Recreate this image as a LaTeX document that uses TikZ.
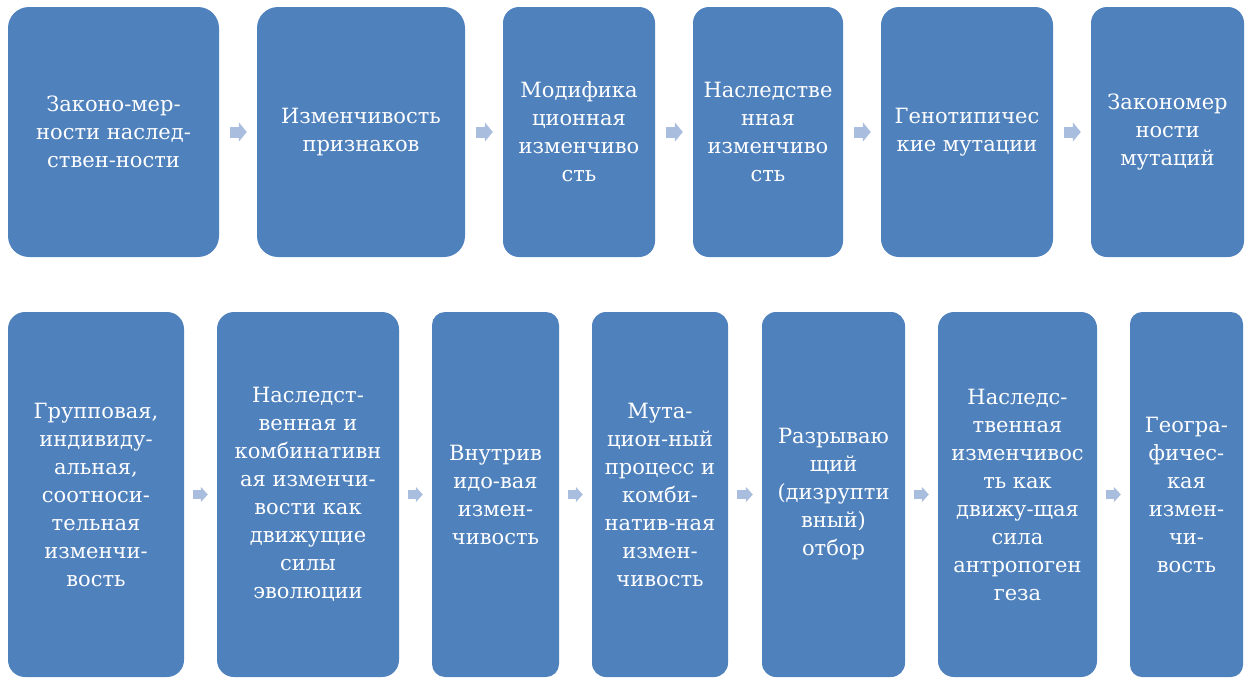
\documentclass[tikz,border=0pt]{standalone}
\usepackage{fontspec}
\setmainfont{DejaVu Serif}
\usetikzlibrary{arrows.meta}
\definecolor{boxblue}{HTML}{4F81BD}
\definecolor{arrowblue}{HTML}{A9BEDF}

\begin{document}
\begin{tikzpicture}[x=1pt, y=-1pt,
  box/.style={fill=boxblue, text=white, align=center, inner sep=0pt,
    rounded corners=#1, font=\fontsize{21}{28}\selectfont},
  box/.default=15pt,
  bigflow/.style={draw=arrowblue, line width=11pt,
    -{Triangle[length=8pt, width=19pt]}, shorten <=11pt, shorten >=10pt},
  smallflow/.style={draw=arrowblue, line width=9pt,
    -{Triangle[length=7pt, width=15pt]}, shorten <=9pt, shorten >=9pt}]
  \useasboundingbox (0,0) rectangle (1252,678);

  \node [box=21pt, minimum width=211pt, minimum height=250pt] (A1) at (113.5,132) {Законо-мер-\\ности наслед-\\ствен-ности};
  \node [box=21pt, minimum width=208pt, minimum height=250pt] (A2) at (361,132) {Изменчивость\\признаков};
  \node [box=16pt, minimum width=152pt, minimum height=250pt] (A3) at (579,132) {Модифика\\ционная\\изменчиво\\сть};
  \node [box=16pt, minimum width=150pt, minimum height=250pt] (A4) at (768,132) {Наследстве\\нная\\изменчиво\\сть};
  \node [box=18pt, minimum width=172pt, minimum height=250pt] (A5) at (967,132) {Генотипичес\\кие мутации};
  \node [box=16pt, minimum width=153pt, minimum height=250pt] (A6) at (1167.5,132) {Закономер\\ности\\мутаций};
  \draw [bigflow] (A1) -- (A2);
  \draw [bigflow] (A2) -- (A3);
  \draw [bigflow] (A3) -- (A4);
  \draw [bigflow] (A4) -- (A5);
  \draw [bigflow] (A5) -- (A6);

  \node [box=17pt, minimum width=176pt, minimum height=365pt] (B1) at (96,494.5) {Групповая,\\индивиду-\\альная,\\соотноси-\\тельная\\изменчи-\\вость};
  \node [box=17pt, minimum width=182pt, minimum height=365pt] (B2) at (308,494.5) {Наследст-\\венная и\\комбинативн\\ая изменчи-\\вости как\\движущие\\силы\\эволюции};
  \node [box=13pt, minimum width=127pt, minimum height=365pt] (B3) at (495.5,494.5) {Внутрив\\идо-вая\\измен-\\чивость};
  \node [box=14pt, minimum width=136pt, minimum height=365pt] (B4) at (660,494.5) {Мута-\\цион-ный\\процесс и\\комби-\\натив-ная\\измен-\\чивость};
  \node [box=14pt, minimum width=143pt, minimum height=365pt] (B5) at (833.5,494.5) {Разрываю\\щий\\(дизрупти\\вный)\\отбор};
  \node [box=16pt, minimum width=159pt, minimum height=365pt] (B6) at (1017.5,494.5) {Наследс-\\твенная\\изменчивос\\ть как\\движу-щая\\сила\\антропоген\\геза};
  \node [box=12pt, minimum width=113pt, minimum height=365pt] (B7) at (1186.5,494.5) {Геогра-\\фичес-\\кая\\измен-\\чи-\\вость};
  \draw [smallflow] (B1) -- (B2);
  \draw [smallflow] (B2) -- (B3);
  \draw [smallflow] (B3) -- (B4);
  \draw [smallflow] (B4) -- (B5);
  \draw [smallflow] (B5) -- (B6);
  \draw [smallflow] (B6) -- (B7);
\end{tikzpicture}
\end{document}
